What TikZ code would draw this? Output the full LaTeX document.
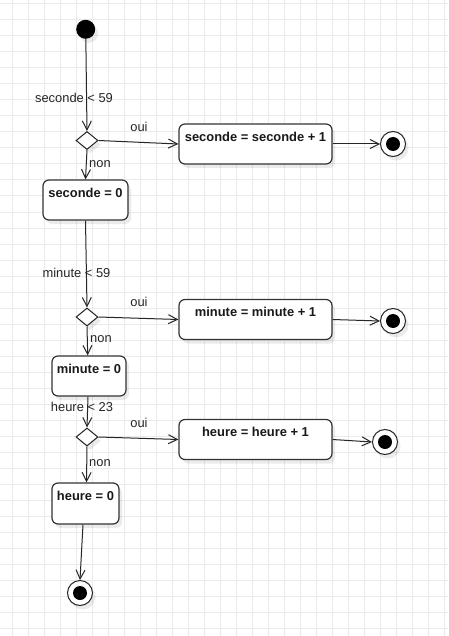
\documentclass[tikz,border=0pt]{standalone}
\usepackage{fontspec}
\setmainfont{Liberation Sans}
\usetikzlibrary{arrows.meta,shadows,shapes.geometric}
\begin{document}
\begin{tikzpicture}[x=1pt,y=-1pt,
  shad/.style={drop shadow={shadow xshift=3pt,shadow yshift=-4pt,fill=black,opacity=0.08}},
  gridline/.style={draw=black!8,line width=1pt},
  box/.style={draw=black!80,line width=1.2pt,rounded corners=6pt,fill=white,shad,inner sep=0pt,minimum height=40pt},
  boxtxt/.style={font=\bfseries\fontsize{12.9}{15}\selectfont,text=black!90,inner sep=0pt},
  lbl/.style={font=\fontsize{12.9}{15}\selectfont,text=black!85,inner sep=0pt},
  dec/.style={diamond,draw=black!85,line width=1pt,fill=white,shad,inner sep=0pt,minimum width=22pt,minimum height=18pt},
  startnode/.style={circle,fill=black,inner sep=0pt,minimum size=19pt,shad},
  endnode/.style={circle,draw=black!85,line width=1pt,fill=white,inner sep=0pt,minimum size=25pt,shad},
  flow/.style={draw=black!85,line width=1pt,-{Straight Barb[length=9pt,width=9pt,line width=1pt]}}
]
\useasboundingbox (0,0) rectangle (448,636);
\fill[white] (0,0) rectangle (448,636);
\foreach \k in {0,...,27} \draw[gridline] ({12.3+16*\k},0) -- ({12.3+16*\k},636);
\foreach \k in {0,...,39} \draw[gridline] (0,{4+16*\k}) -- (448,{4+16*\k});

% nodes
\node[startnode] (start) at (85.7,29.3) {};
\node[dec] (d1) at (87,140.5) {};
\node[box,minimum width=153pt] (b1) at (255.5,144) {};
\node[endnode] (f1) at (393,144) {};
\node[box,minimum width=85pt] (s0) at (85.5,200) {};
\node[dec] (d2) at (87,317) {};
\node[box,minimum width=153pt] (b2) at (255.5,319.5) {};
\node[endnode] (f2) at (393,321) {};
\node[box,minimum width=74pt] (m0) at (89,376) {};
\node[dec] (d3) at (87,437) {};
\node[box,minimum width=153pt] (b3) at (255.5,439.5) {};
\node[endnode] (f3) at (385,442) {};
\node[box,minimum width=67pt,minimum height=41pt] (h0) at (85.5,503.5) {};
\node[endnode] (f4) at (80,593) {};

\foreach \f in {f1,f2,f3,f4} \fill[black] (\f.center) circle (7pt);

% box texts
\node[boxtxt] (t1) at ([yshift=-13pt]b1.north) {seconde = seconde + 1};
\node[boxtxt] (t2) at ([yshift=-13pt]s0.north) {seconde = 0};
\node[boxtxt] (t3) at ([yshift=-13pt]b2.north) {minute = minute + 1};
\node[boxtxt] (t4) at ([yshift=-13pt]m0.north) {minute = 0};
\node[boxtxt] (t5) at ([yshift=-13pt]b3.north) {heure = heure + 1};
\node[boxtxt] (t6) at ([yshift=-13pt]h0.north) {heure = 0};

% connectors
\draw[flow] (start) -- (d1.north);
\draw[flow] (d1.east) -- (b1.west);
\draw[flow] (b1.east) -- (f1.west);
\draw[flow] (d1.south) -- (s0.north);
\draw[flow] (s0.south) -- (d2.north);
\draw[flow] (d2.east) -- (b2.west);
\draw[flow] (b2.east) -- (f2.west);
\draw[flow] (d2.south) -- ([xshift=-1.3pt]m0.north);
\draw[flow] ([xshift=-1pt]m0.south) -- (d3.north);
\draw[flow] (d3.east) -- (b3.west);
\draw[flow] (b3.east) -- (f3.west);
\draw[flow] (d3.south) -- ([xshift=1pt]h0.north);
\draw[flow] ([xshift=-2.5pt]h0.south) -- (f4.north);

% edge labels
\node[lbl] (l1) at (74,98) {seconde < 59};
\node[lbl] (o1) at (139,127) {oui};
\node[lbl] (n1) at (100,164) {non};
\node[lbl] (l2) at (76.5,273) {minute < 59};
\node[lbl] (o2) at (139,302) {oui};
\node[lbl] (n2) at (101,339) {non};
\node[lbl] (l3) at (82,407) {heure < 23};
\node[lbl] (o3) at (139,423) {oui};
\node[lbl] (n3) at (100,463) {non};
\end{tikzpicture}
\end{document}
